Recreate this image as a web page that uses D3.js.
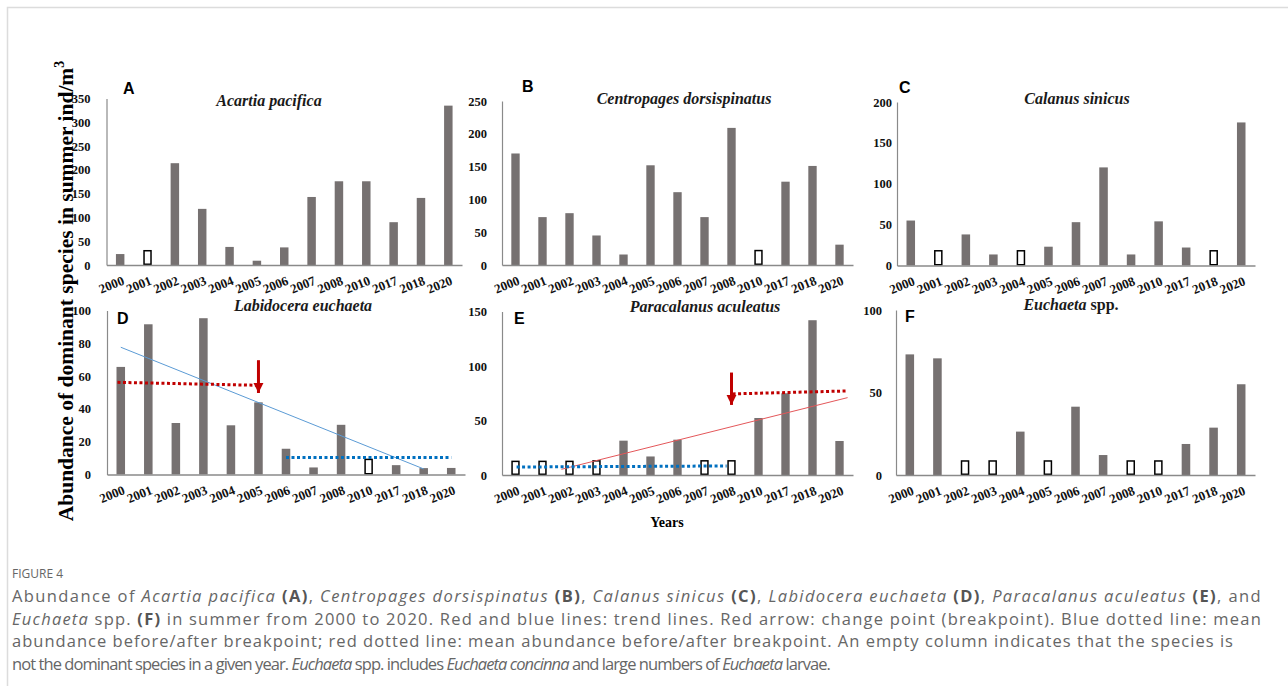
<!DOCTYPE html>
<html>
<head>
<meta charset="utf-8">
<script src="https://cdn.jsdelivr.net/npm/d3@7"></script>
<style>
  html, body { margin: 0; padding: 0; background: #fff; }
  svg { display: block; }
</style>
</head>
<body>
<svg id="fig" width="1288" height="686"></svg>
<script>
// Survey years shown on every panel
const years = ["2000","2001","2002","2003","2004","2005","2006","2007","2008","2010","2017","2018","2020"];

// Summer abundance (ind/m3) per species
const acartiaValues     = [23, 30, 214, 118, 38, 9, 37, 143, 176, 176, 90, 141, 335];
const centropagesValues = [170, 73, 79, 45, 16, 152, 111, 73, 209, 22, 127, 151, 31];
const calanusValues     = [55, 18, 38, 13.5, 18, 23, 53, 120, 13.5, 54, 22, 18, 175];
const labidoceraValues  = [65.6, 91.6, 31.4, 95.3, 30, 44, 15.7, 4.3, 30.3, 9.2, 5.7, 3.9, 4];
const paracalanusValues = [12.5, 12.5, 12.5, 13, 31.5, 17, 32.4, 13, 13, 52.3, 75, 142, 31.2];
const euchaetaValues    = [73.1, 70.7, 8.5, 8.5, 26.3, 8.5, 41.4, 12.1, 8.5, 8.5, 18.8, 28.7, 55];

// Years in which the species was not dominant (drawn as empty columns)
const acartiaAbsent     = ["2001"];
const centropagesAbsent = ["2010"];
const calanusAbsent     = ["2001", "2004", "2018"];
const labidoceraAbsent  = ["2010"];
const paracalanusAbsent = ["2000", "2001", "2002", "2003", "2007", "2008"];
const euchaetaAbsent    = ["2002", "2003", "2005", "2008", "2010"];

// Y tick labels
const acartiaTicks     = [0, 50, 100, 150, 200, 250, 300, 350];
const centropagesTicks = [0, 50, 100, 150, 200, 250];
const calanusTicks     = [0, 50, 100, 150, 200];
const labidoceraTicks  = [0, 20, 40, 60, 80, 100];
const paracalanusTicks = [0, 50, 100, 150];
const euchaetaTicks    = [0, 50, 100];

// Trend lines and breakpoint annotations: [category index, value]
const labidoceraTrend   = [[0, 77.6], [11, 3.4]];
const labidoceraBefore  = [[-0.12, 56.2], [4.97, 54.4]];
const labidoceraAfter   = [[6, 10.3], [12, 10.3]];
const labidoceraArrow   = [[5, 69.7], [5, 49.7]];
const paracalanusTrend  = [[1.7, 5.2], [12.3, 71]];
const paracalanusBefore = [[0.04, 7.3], [7.82, 8.3]];
const paracalanusAfter  = [[8.04, 74.4], [12.26, 77.1]];
const paracalanusArrow  = [[8, 94], [8, 64.3]];

const svg = d3.select("#fig");
const SERIF = "'Liberation Serif', 'Times New Roman', serif";
const SANS = "'Liberation Sans', Arial, sans-serif";
const BAR = "#767171";
const AXIS = "#8a8a8a";
const RED = "#c00000";
const BLUE = "#0070c0";

// Light frame around the figure
svg.append("rect")
  .attr("x", 7.5).attr("y", 7.5).attr("width", 1300).attr("height", 700)
  .attr("fill", "none").attr("stroke", "#dcdcdc").attr("stroke-width", 1.5);

svg.append("defs").append("marker")
  .attr("id", "arrowhead")
  .attr("viewBox", "0 0 10 10").attr("refX", 10).attr("refY", 5)
  .attr("markerWidth", 3.4).attr("markerHeight", 3.4)
  .attr("markerUnits", "strokeWidth")
  .attr("orient", "auto")
  .append("path").attr("d", "M0,0 L10,5 L0,10 Z").attr("fill", RED);

const panels = [
  { values: acartiaValues, absent: acartiaAbsent, ticks: acartiaTicks,
    letter: "A", title: [["Acartia pacifica", true]],
    x0: 106.5, x1: 462, yTop: 98.5, y0: 265, pad: 16,
    letterXY: [123, 94], titleXY: [269, 105.5] },
  { values: centropagesValues, absent: centropagesAbsent, ticks: centropagesTicks,
    letter: "B", title: [["Centropages dorsispinatus", true]],
    x0: 502, x1: 853, yTop: 101, y0: 265, pad: 15,
    letterXY: [522, 92], titleXY: [684, 103.5] },
  { values: calanusValues, absent: calanusAbsent, ticks: calanusTicks,
    letter: "C", title: [["Calanus sinicus", true]],
    x0: 897, x1: 1255, yTop: 102, y0: 265.5, pad: 5,
    letterXY: [899, 92.5], titleXY: [1077, 103.5] },
  { values: labidoceraValues, absent: labidoceraAbsent, ticks: labidoceraTicks,
    letter: "D", title: [["Labidocera euchaeta", true]],
    x0: 107, x1: 465, yTop: 310.5, y0: 474.5, pad: 16,
    letterXY: [117, 323.5], titleXY: [303, 311],
    trend: labidoceraTrend, trendColor: "#5b9bd5",
    before: labidoceraBefore, beforeColor: RED,
    after: labidoceraAfter, afterColor: BLUE,
    arrow: labidoceraArrow },
  { values: paracalanusValues, absent: paracalanusAbsent, ticks: paracalanusTicks,
    letter: "E", title: [["Paracalanus aculeatus", true]],
    x0: 502, x1: 853, yTop: 311.5, y0: 475, pad: 15,
    letterXY: [514, 324], titleXY: [705, 311.5],
    trend: paracalanusTrend, trendColor: "#e4575a",
    before: paracalanusBefore, beforeColor: BLUE,
    after: paracalanusAfter, afterColor: RED,
    arrow: paracalanusArrow },
  { values: euchaetaValues, absent: euchaetaAbsent, ticks: euchaetaTicks,
    letter: "F", title: [["Euchaeta", true], [" spp.", false]],
    x0: 896, x1: 1255, yTop: 310, y0: 475, pad: 14,
    letterXY: [905, 322], titleXY: [1071, 310] }
];

panels.forEach(p => {
  const g = svg.append("g");
  const x = d3.scaleBand().domain(years).range([p.x0, p.x1])
    .paddingInner(0.69).paddingOuter(0.345);
  const y = d3.scaleLinear().domain([0, d3.max(p.ticks)]).range([p.y0, p.yTop]);
  // Fractional category index -> pixel position (band centres)
  const xi = d3.scaleLinear().domain([0, 1])
    .range([x(years[0]) + x.bandwidth() / 2, x(years[1]) + x.bandwidth() / 2]);

  // Bars
  const rows = years.map((yr, i) => ({ year: yr, value: p.values[i], empty: p.absent.includes(yr) }));
  g.selectAll("rect.bar").data(rows).join("rect")
    .attr("class", "bar")
    .attr("x", d => x(d.year) + (d.empty ? 0.75 : 0))
    .attr("width", d => x.bandwidth() - (d.empty ? 1.5 : 0))
    .attr("y", d => y(d.value))
    .attr("height", d => y(0) - y(d.value) - (d.empty ? 0.75 : 0))
    .attr("fill", d => d.empty ? "#fff" : BAR)
    .attr("stroke", d => d.empty ? "#000" : "none")
    .attr("stroke-width", 1.5);

  // Y axis
  const ya = g.append("g").attr("transform", `translate(${p.x0},0)`)
    .call(d3.axisLeft(y).tickValues(p.ticks).tickSize(0).tickSizeOuter(0).tickPadding(p.pad));
  ya.attr("font-family", SERIF);
  ya.select(".domain").attr("stroke", AXIS).attr("stroke-width", 1.2);
  ya.selectAll("text").attr("font-family", SERIF).attr("font-weight", "bold")
    .attr("font-size", 12.5).attr("fill", "#111");

  // X axis with slanted year labels
  const xa = g.append("g").attr("transform", `translate(0,${p.y0})`)
    .call(d3.axisBottom(x).tickSize(0).tickSizeOuter(0));
  xa.attr("font-family", SERIF);
  xa.select(".domain").attr("stroke", AXIS).attr("stroke-width", 1.5);
  xa.selectAll("text")
    .attr("x", 0).attr("y", 0).attr("dy", 0)
    .attr("transform", "translate(5,19) rotate(-22)")
    .attr("text-anchor", "end")
    .attr("font-family", SERIF).attr("font-weight", "bold")
    .attr("font-size", 13).attr("fill", "#111");

  // Trend line and breakpoint means
  const line = d3.line().x(d => xi(d[0])).y(d => y(d[1]));
  if (p.trend) {
    g.append("path").attr("d", line(p.trend)).attr("fill", "none")
      .attr("stroke", p.trendColor).attr("stroke-width", 1);
  }
  if (p.before) {
    g.append("path").attr("d", line(p.before)).attr("fill", "none")
      .attr("stroke", p.beforeColor).attr("stroke-width", 3).attr("stroke-dasharray", "3,2.5");
  }
  if (p.after) {
    g.append("path").attr("d", line(p.after)).attr("fill", "none")
      .attr("stroke", p.afterColor).attr("stroke-width", 3).attr("stroke-dasharray", "3,2.5");
  }
  if (p.arrow) {
    g.append("path").attr("d", line(p.arrow)).attr("fill", "none")
      .attr("stroke", RED).attr("stroke-width", 3).attr("marker-end", "url(#arrowhead)");
  }

  // Panel letter
  g.append("text").attr("x", p.letterXY[0]).attr("y", p.letterXY[1])
    .attr("font-family", SANS).attr("font-weight", "bold").attr("font-size", 16)
    .attr("fill", "#000").text(p.letter);

  // Species title
  const t = g.append("text").attr("x", p.titleXY[0]).attr("y", p.titleXY[1])
    .attr("text-anchor", "middle").attr("font-family", SERIF).attr("font-weight", "bold")
    .attr("font-size", 16).attr("fill", "#1a1a1a");
  p.title.forEach(([s, it]) => t.append("tspan").attr("font-style", it ? "italic" : "normal").text(s));
});

// Shared axis titles
const yl = svg.append("text")
  .attr("transform", "translate(73,291) rotate(-90)")
  .attr("text-anchor", "middle").attr("font-family", SERIF).attr("font-weight", "bold")
  .attr("font-size", 21.5).attr("fill", "#000");
yl.append("tspan").text("Abundance of dominant species in summer ind/m");
yl.append("tspan").attr("font-size", 14).attr("dy", -9).text("3");

svg.append("text").attr("x", 667).attr("y", 527).attr("text-anchor", "middle")
  .attr("font-family", SERIF).attr("font-weight", "bold").attr("font-size", 14)
  .attr("fill", "#000").text("Years");

// Caption
const CAP = "'Open Sans', 'Noto Sans', sans-serif";
svg.append("text").attr("x", 12).attr("y", 578)
  .attr("font-family", CAP).attr("font-size", 12).attr("fill", "#666")
  .text("FIGURE 4");

const captionLines = [
  [["Abundance of ", 0], ["Acartia pacifica", 1], [" ", 0], ["(A)", 2], [", ", 0], ["Centropages dorsispinatus", 1], [" ", 0], ["(B)", 2], [", ", 0], ["Calanus sinicus", 1], [" ", 0], ["(C)", 2], [", ", 0], ["Labidocera euchaeta", 1], [" ", 0], ["(D)", 2], [", ", 0], ["Paracalanus aculeatus", 1], [" ", 0], ["(E)", 2], [", and", 0]],
  [["Euchaeta", 1], [" spp. ", 0], ["(F)", 2], [" in summer from 2000 to 2020. Red and blue lines: trend lines. Red arrow: change point (breakpoint). Blue dotted line: mean", 0]],
  [["abundance before/after breakpoint; red dotted line: mean abundance before/after breakpoint. An empty column indicates that the species is", 0]],
  [["not the dominant species in a given year. ", 0], ["Euchaeta", 1], [" spp. includes ", 0], ["Euchaeta concinna", 1], [" and large numbers of ", 0], ["Euchaeta", 1], [" larvae.", 0]]
];
// Line widths of the set caption block
const captionWidths = [1250, 1250, 1222, 818];
captionLines.forEach((parts, i) => {
  const t = svg.append("text").attr("x", 12).attr("y", 602 + i * 22.7)
    .attr("font-family", CAP).attr("font-size", 16.5).attr("fill", "#666");
  parts.forEach(([s, kind]) => {
    const ts = t.append("tspan").text(s);
    if (kind === 1) ts.attr("font-style", "italic");
    if (kind === 2) ts.attr("font-weight", "bold").attr("fill", "#555");
  });
  const natural = t.node().getComputedTextLength();
  const chars = parts.map(d => d[0]).join("").length;
  t.attr("letter-spacing", (captionWidths[i] - natural) / chars);
});
</script>
</body>
</html>
